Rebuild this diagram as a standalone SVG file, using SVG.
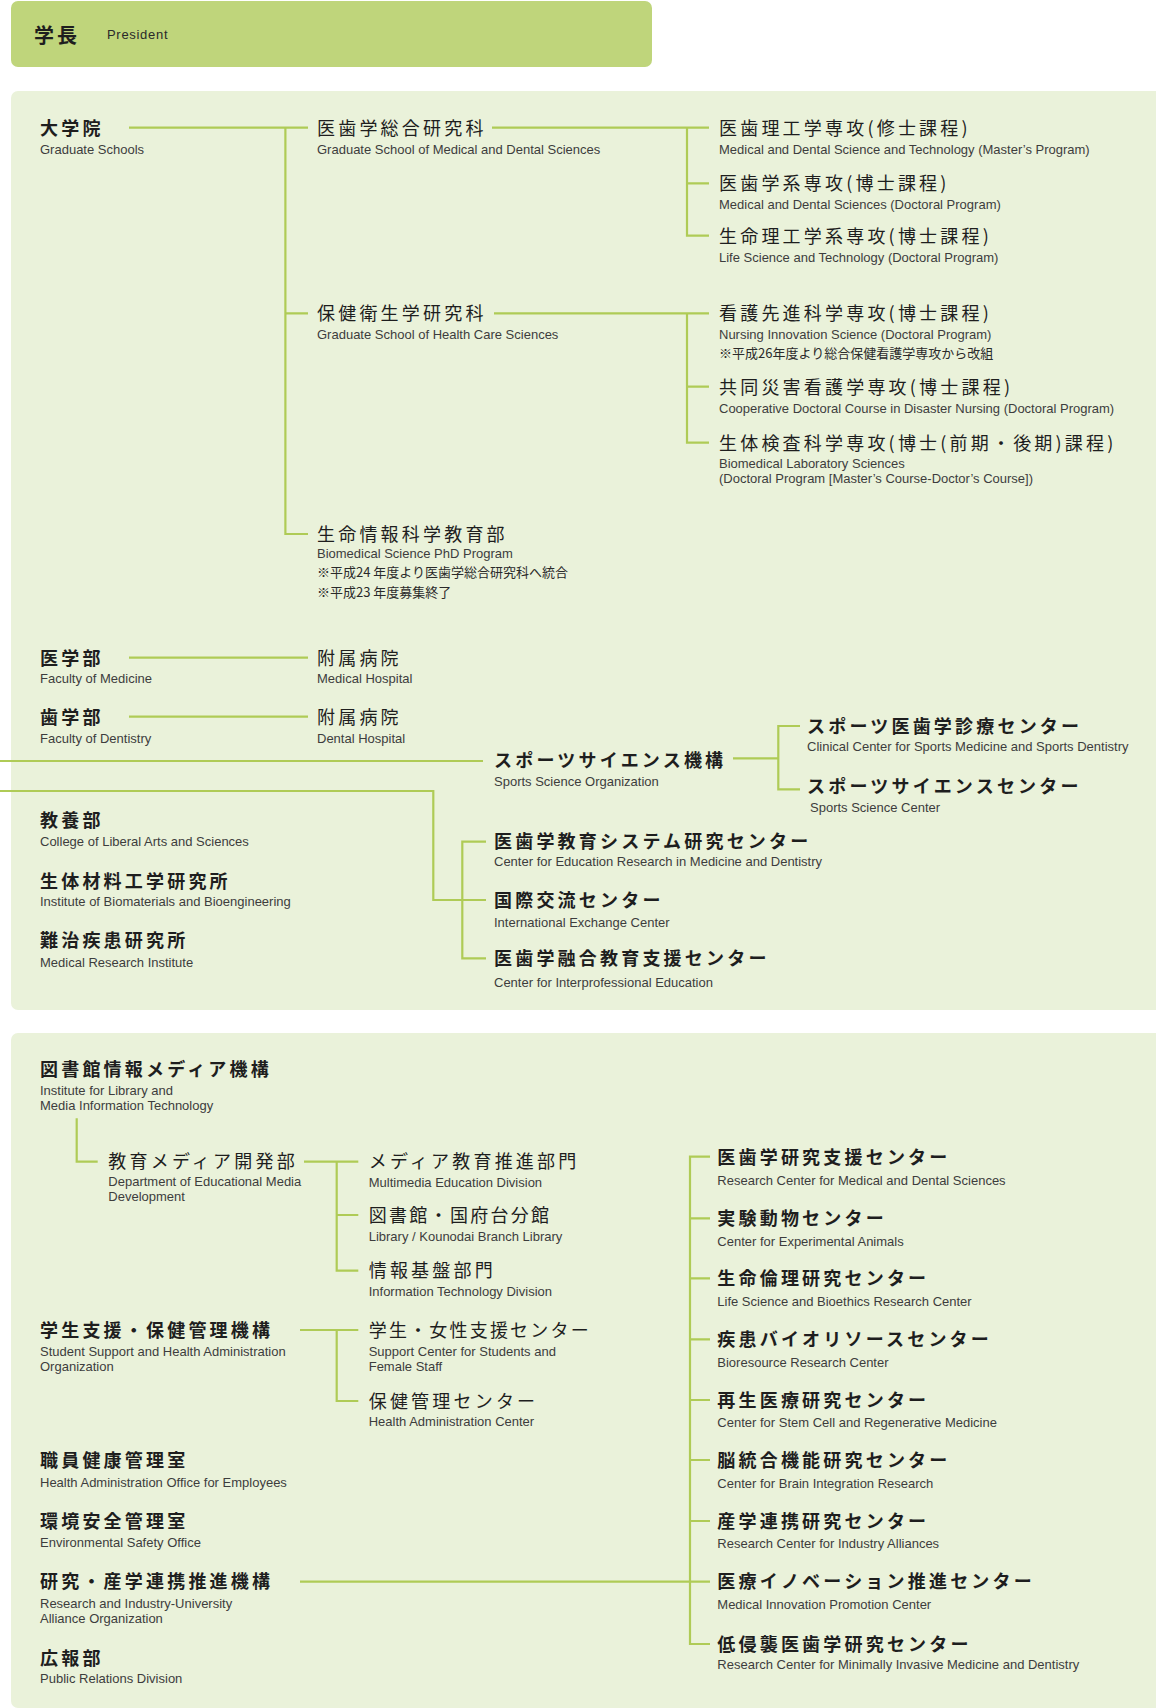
<svg xmlns="http://www.w3.org/2000/svg" width="1156" height="1708" viewBox="0 0 1156 1708">
<style>
.jb{font-family:"Noto Sans CJK JP","Noto Sans CJK SC",sans-serif;font-size:18px;font-weight:700;letter-spacing:3.2px;fill:#1e1e1e}
.jm{font-family:"Noto Sans CJK JP","Noto Sans CJK SC",sans-serif;font-size:18px;font-weight:400;letter-spacing:3.2px;fill:#1e1e1e}
.en{font-family:"Liberation Sans",Arial,sans-serif;font-size:13px;fill:#3d3d3d}
.nt{font-family:"Noto Sans CJK JP","Noto Sans CJK SC",sans-serif;font-size:13px;fill:#2a2a2a}
.ln{fill:none;stroke:#afcb56;stroke-width:2.2}
.panel{fill:#eaf2da}
</style>
<rect class="panel" x="11" y="91" width="1160" height="919" rx="7"/>
<rect class="panel" x="11" y="1033" width="1160" height="675" rx="7"/>
<g id="president">
<rect x="11" y="1" width="641" height="66" rx="7" fill="#bfd57b"/>
<text x="34" y="42.5" class="jb" style="font-size:20px;letter-spacing:3px">学長</text>
<text x="107" y="38.5" class="en" style="letter-spacing:0.7px;fill:#2a2a2a">President</text>
</g>
<g id="connectors" class="ln">
<path d="M129 127.7H308M285.4 127.7V534H308M285.4 313.3H308"/>
<path d="M492 127.7H709M687 127.7V235.7H709M687 183.3H709"/>
<path d="M494 313.3H709M687 313.3V442.7H709M687 386.7H709"/>
<path d="M129 657.7H308"/>
<path d="M129 716.7H308"/>
<path d="M0 761H483"/>
<path d="M800 726H778.3V789.3H800M733 758.3H778.3"/>
<path d="M0 791H433.3V900H486"/>
<path d="M486 841.7H462.3V958.3H486"/>
<path d="M76.7 1118.3V1161.7H97.7"/>
<path d="M304 1161.7H358.3M336.7 1161.7V1270.7H358.3M336.7 1215H358.3"/>
<path d="M300 1330H358.3M336.7 1330V1401H358.3"/>
<path d="M710 1156.7H690V1644H710M690 1218.3H710M690 1278.3H710M690 1339.3H710M690 1400H710M690 1460H710M690 1521H710M300 1581.7H710"/>
</g>
<g id="graduate-schools"><text x="40" y="134.5" class="jb">大学院</text><text x="40" y="154" class="en">Graduate Schools</text></g>
<g id="med-dent-sciences"><text x="317" y="134.5" class="jm">医歯学総合研究科</text><text x="317" y="154" class="en">Graduate School of Medical and Dental Sciences</text></g>
<g id="health-care-sciences"><text x="317" y="320" class="jm">保健衛生学研究科</text><text x="317" y="339" class="en">Graduate School of Health Care Sciences</text></g>
<g id="biomedical-phd"><text x="317" y="540.8" class="jm">生命情報科学教育部</text><text x="317" y="558" class="en">Biomedical Science PhD Program</text><text x="317" y="577.3" class="nt">※平成24 年度より医歯学総合研究科へ統合</text><text x="317" y="596.7" class="nt">※平成23 年度募集終了</text></g>
<g id="mds-tech-master"><text x="719" y="134.5" class="jm">医歯理工学専攻(修士課程)</text><text x="719" y="154" class="en">Medical and Dental Science and Technology (Master’s Program)</text></g>
<g id="mds-doctoral"><text x="719" y="190" class="jm">医歯学系専攻(博士課程)</text><text x="719" y="209" class="en">Medical and Dental Sciences (Doctoral Program)</text></g>
<g id="life-sci-tech"><text x="719" y="242.5" class="jm">生命理工学系専攻(博士課程)</text><text x="719" y="262" class="en">Life Science and Technology (Doctoral Program)</text></g>
<g id="nursing-innovation"><text x="719" y="320" class="jm">看護先進科学専攻(博士課程)</text><text x="719" y="339" class="en">Nursing Innovation Science (Doctoral Program)</text><text x="719" y="358.3" class="nt">※平成26年度より総合保健看護学専攻から改組</text></g>
<g id="disaster-nursing"><text x="719" y="393.5" class="jm">共同災害看護学専攻(博士課程)</text><text x="719" y="412.5" class="en">Cooperative Doctoral Course in Disaster Nursing (Doctoral Program)</text></g>
<g id="biomedical-lab"><text x="719" y="449.5" class="jm">生体検査科学専攻(博士(前期・後期)課程)</text><text x="719" y="467.5" class="en">Biomedical Laboratory Sciences</text><text x="719" y="482.5" class="en">(Doctoral Program [Master’s Course-Doctor’s Course])</text></g>
<g id="faculty-medicine"><text x="40" y="664.5" class="jb">医学部</text><text x="40" y="682.5" class="en">Faculty of Medicine</text></g>
<g id="medical-hospital"><text x="317" y="664.5" class="jm">附属病院</text><text x="317" y="682.5" class="en">Medical Hospital</text></g>
<g id="faculty-dentistry"><text x="40" y="723.5" class="jb">歯学部</text><text x="40" y="743" class="en">Faculty of Dentistry</text></g>
<g id="dental-hospital"><text x="317" y="723.5" class="jm">附属病院</text><text x="317" y="743" class="en">Dental Hospital</text></g>
<g id="sports-org"><text x="494" y="767" class="jb">スポーツサイエンス機構</text><text x="494" y="786" class="en">Sports Science Organization</text></g>
<g id="sports-clinical"><text x="807" y="732.5" class="jb">スポーツ医歯学診療センター</text><text x="807" y="751" class="en">Clinical Center for Sports Medicine and Sports Dentistry</text></g>
<g id="sports-center"><text x="807" y="792.5" class="jb">スポーツサイエンスセンター</text><text x="810" y="812" class="en">Sports Science Center</text></g>
<g id="edu-research"><text x="494" y="848" class="jb">医歯学教育システム研究センター</text><text x="494" y="866" class="en">Center for Education Research in Medicine and Dentistry</text></g>
<g id="intl-exchange"><text x="494" y="906.5" class="jb">国際交流センター</text><text x="494" y="927" class="en">International Exchange Center</text></g>
<g id="interprof-edu"><text x="494" y="965" class="jb">医歯学融合教育支援センター</text><text x="494" y="987" class="en">Center for Interprofessional Education</text></g>
<g id="liberal-arts"><text x="40" y="826.5" class="jb">教養部</text><text x="40" y="846" class="en">College of Liberal Arts and Sciences</text></g>
<g id="biomaterials"><text x="40" y="887.5" class="jb">生体材料工学研究所</text><text x="40" y="906" class="en">Institute of Biomaterials and Bioengineering</text></g>
<g id="medical-research"><text x="40" y="947" class="jb">難治疾患研究所</text><text x="40" y="966.5" class="en">Medical Research Institute</text></g>
<g id="library-media"><text x="40" y="1076" class="jb">図書館情報メディア機構</text><text x="40" y="1095" class="en">Institute for Library and</text><text x="40" y="1110" class="en">Media Information Technology</text></g>
<g id="edu-media-dev"><text x="108.3" y="1168.3" class="jm">教育メディア開発部</text><text x="108.3" y="1185.5" class="en">Department of Educational Media</text><text x="108.3" y="1200.5" class="en">Development</text></g>
<g id="multimedia-edu"><text x="368.7" y="1168.3" class="jm">メディア教育推進部門</text><text x="368.7" y="1186.5" class="en">Multimedia Education Division</text></g>
<g id="library-branch"><text x="368.7" y="1221.7" class="jm" style="letter-spacing:2.3px">図書館・国府台分館</text><text x="368.7" y="1241" class="en">Library / Kounodai Branch Library</text></g>
<g id="it-division"><text x="368.7" y="1277.3" class="jm">情報基盤部門</text><text x="368.7" y="1296" class="en">Information Technology Division</text></g>
<g id="student-support"><text x="40" y="1336.7" class="jb">学生支援・保健管理機構</text><text x="40" y="1356" class="en">Student Support and Health Administration</text><text x="40" y="1371" class="en">Organization</text></g>
<g id="support-students-female"><text x="368.7" y="1336.7" class="jm" style="letter-spacing:2.2px">学生・女性支援センター</text><text x="368.7" y="1356" class="en">Support Center for Students and</text><text x="368.7" y="1371" class="en">Female Staff</text></g>
<g id="health-admin-center"><text x="368.7" y="1407.7" class="jm">保健管理センター</text><text x="368.7" y="1426" class="en">Health Administration Center</text></g>
<g id="employee-health"><text x="40" y="1466.5" class="jb">職員健康管理室</text><text x="40" y="1487" class="en">Health Administration Office for Employees</text></g>
<g id="env-safety"><text x="40" y="1528.3" class="jb">環境安全管理室</text><text x="40" y="1546.5" class="en">Environmental Safety Office</text></g>
<g id="research-industry"><text x="40" y="1588.3" class="jb">研究・産学連携推進機構</text><text x="40" y="1607.5" class="en">Research and Industry-University</text><text x="40" y="1622.5" class="en">Alliance Organization</text></g>
<g id="public-relations"><text x="40" y="1664.5" class="jb">広報部</text><text x="40" y="1682.5" class="en">Public Relations Division</text></g>
<g id="rc-med-dent"><text x="717.3" y="1163.5" class="jb">医歯学研究支援センター</text><text x="717.3" y="1185" class="en">Research Center for Medical and Dental Sciences</text></g>
<g id="exp-animals"><text x="717.3" y="1225" class="jb">実験動物センター</text><text x="717.3" y="1246" class="en">Center for Experimental Animals</text></g>
<g id="bioethics"><text x="717.3" y="1285" class="jb">生命倫理研究センター</text><text x="717.3" y="1306" class="en">Life Science and Bioethics Research Center</text></g>
<g id="bioresource"><text x="717.3" y="1346" class="jb">疾患バイオリソースセンター</text><text x="717.3" y="1366.5" class="en">Bioresource Research Center</text></g>
<g id="stem-cell"><text x="717.3" y="1406.7" class="jb">再生医療研究センター</text><text x="717.3" y="1427" class="en">Center for Stem Cell and Regenerative Medicine</text></g>
<g id="brain-integration"><text x="717.3" y="1466.7" class="jb">脳統合機能研究センター</text><text x="717.3" y="1488" class="en">Center for Brain Integration Research</text></g>
<g id="industry-alliances"><text x="717.3" y="1527.7" class="jb">産学連携研究センター</text><text x="717.3" y="1547.5" class="en">Research Center for Industry Alliances</text></g>
<g id="med-innovation"><text x="717.3" y="1588.3" class="jb">医療イノベーション推進センター</text><text x="717.3" y="1609" class="en">Medical Innovation Promotion Center</text></g>
<g id="minimally-invasive"><text x="717.3" y="1650.7" class="jb">低侵襲医歯学研究センター</text><text x="717.3" y="1668.5" class="en">Research Center for Minimally Invasive Medicine and Dentistry</text></g>
</svg>
